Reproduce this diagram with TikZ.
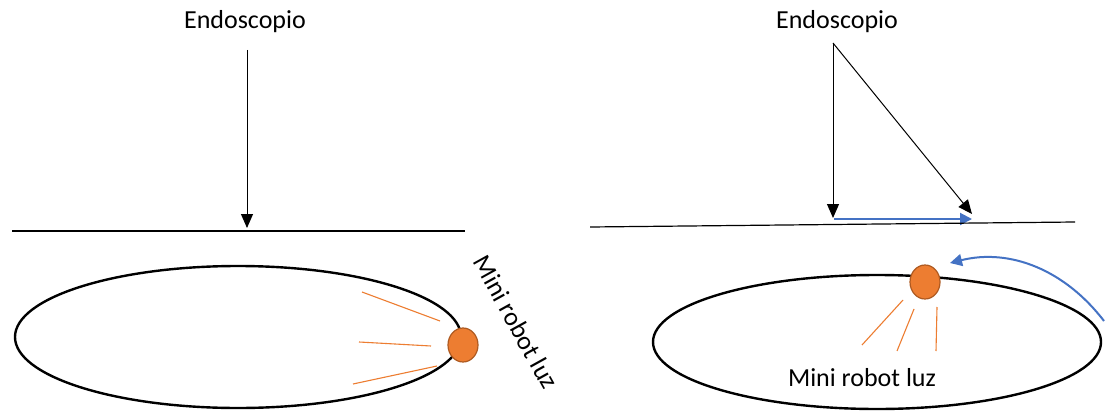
\documentclass[tikz,border=0pt]{standalone}
\usepackage{fontspec}
\setmainfont{Carlito}
\usetikzlibrary{arrows.meta,shapes.geometric}
\definecolor{orng}{HTML}{ED7D31}
\definecolor{orngdk}{HTML}{AE5A21}
\definecolor{blu}{HTML}{4472C4}
\tikzset{
  lbl/.style={font=\fontsize{26}{30}\selectfont, inner sep=0pt},
  blkarrow/.style={line width=1pt, -{Triangle[length=14pt,width=12pt]}},
  bluarrow/.style={line width=2pt, blu, -{Triangle[length=12pt,width=12pt]}},
  floor/.style={line width=1.2pt},
  body/.style={line width=2.4pt},
  ray/.style={line width=1.1pt, orng},
  robot/.style={ellipse, draw=orngdk, fill=orng, line width=1.2pt, minimum width=30pt, minimum height=34pt, inner sep=0pt}
}
\begin{document}
\begin{tikzpicture}[x=1pt,y=-1pt]
\useasboundingbox[fill=white] (0,0) rectangle (1107,412);
% ---------- left panel ----------
\node[lbl] (endoL) at (245,22) {Endoscopio};
\coordinate (aL0) at (247,50);
\coordinate (aL1) at (247,228);
\draw[blkarrow] (aL0) -- (aL1);
\coordinate (fL0) at (12,231);
\coordinate (fL1) at (465,231);
\draw[floor] (fL0) -- (fL1);
\draw[body] (238,337) ellipse [x radius=223, y radius=71];
\draw[ray] (362,292) -- (440,321);
\draw[ray] (359,342) -- (431,346);
\draw[ray] (353,384) -- (437,366);
\node[robot] (robL) at (463,345) {};
\node[lbl, rotate=-61] (labL) at (516,322) {Mini robot luz};
% ---------- right panel ----------
\node[lbl] (endoR) at (837,22) {Endoscopio};
\coordinate (apex) at (833,43);
\coordinate (vtip) at (833,218);
\coordinate (dtip) at (972,214);
\draw[blkarrow] (apex) -- (vtip);
\draw[blkarrow] (apex) -- (dtip);
\coordinate (bs) at (834,219);
\coordinate (be) at (972,219);
\draw[bluarrow] (bs) -- (be);
\coordinate (fR0) at (590,227);
\coordinate (fR1) at (1075,222);
\draw[floor] (fR0) -- (fR1);
\draw[body] (877,342) ellipse [x radius=224, y radius=67];
\draw[ray] (903,300) -- (862,345);
\draw[ray] (914,309) -- (897,351);
\draw[ray] (937,307) -- (936,351);
\node[robot] (robR) at (925,282) {};
\node[lbl] (labR) at (862,378) {Mini robot luz};
\coordinate (cs) at (1104,321);
\coordinate (ce) at (950,263);
\draw[bluarrow] (cs) .. controls (1065,270) and (1010,248) .. (ce);
\end{tikzpicture}
\end{document}
